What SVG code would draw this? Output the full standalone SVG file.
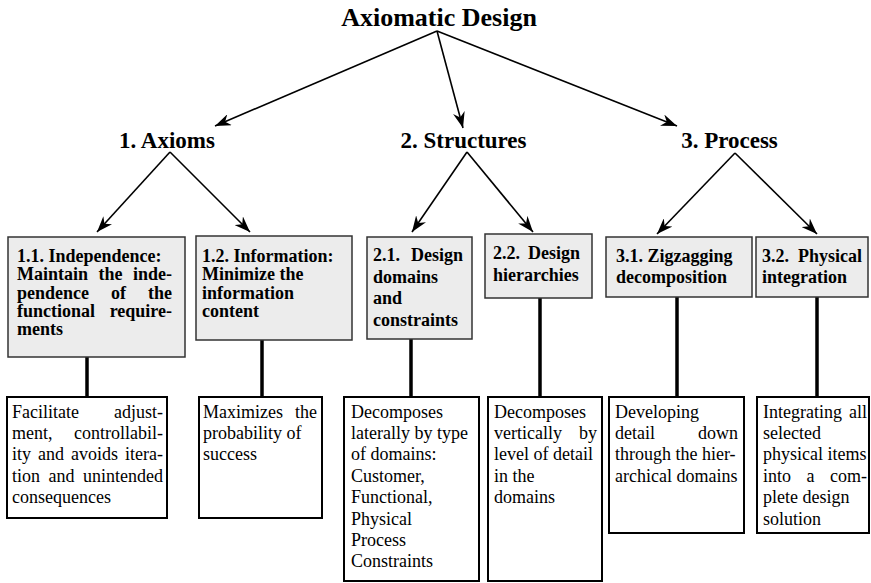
<svg xmlns="http://www.w3.org/2000/svg" width="871" height="583" viewBox="0 0 871 583">
<defs>
<style>
text{font-family:"Liberation Serif","Times New Roman",serif;fill:#000}
.title{font-weight:bold;font-size:26px}
.l2{font-weight:bold;font-size:23px}
.b{font-weight:bold;font-size:18px}
.r{font-size:18px}
.e{text-anchor:end}
.top{fill:#ececec;stroke:#333;stroke-width:1.5}
.bot{fill:#fff;stroke:#000;stroke-width:2}
.arr{stroke:#000;stroke-width:1.6;fill:none;marker-end:url(#ah)}
.vc{stroke:#000;stroke-width:3.5;fill:none}
</style>
<marker id="ah" viewBox="0 0 16 12" markerWidth="16" markerHeight="12" refX="16" refY="6" orient="auto" markerUnits="userSpaceOnUse">
<path d="M0,0 L16,6 L0,12 L5,6 z" fill="#000"/>
</marker>
</defs>

<g id="connectors">
<line class="arr" x1="437" y1="31" x2="215" y2="126"/>
<line class="arr" x1="437" y1="31" x2="463" y2="128"/>
<line class="arr" x1="437" y1="31" x2="677" y2="126"/>
<line class="arr" x1="170" y1="152" x2="97" y2="232"/>
<line class="arr" x1="170" y1="152" x2="250" y2="232"/>
<line class="arr" x1="467" y1="152" x2="412" y2="232"/>
<line class="arr" x1="467" y1="152" x2="533" y2="232"/>
<line class="arr" x1="735" y1="153" x2="657" y2="234"/>
<line class="arr" x1="735" y1="153" x2="817" y2="234"/>
<line class="vc" x1="87" y1="357" x2="87" y2="397"/>
<line class="vc" x1="262" y1="340" x2="262" y2="397"/>
<line class="vc" x1="411" y1="339" x2="411" y2="397"/>
<line class="vc" x1="540" y1="298" x2="540" y2="397"/>
<line class="vc" x1="677" y1="297" x2="677" y2="397"/>
<line class="vc" x1="817" y1="297" x2="817" y2="397"/>
</g>

<g id="root"><text class="title" x="439" y="26" text-anchor="middle">Axiomatic Design</text></g>
<g id="axioms"><text class="l2" x="167" y="148" text-anchor="middle">1. Axioms</text></g>
<g id="structures"><text class="l2" x="463.5" y="148" text-anchor="middle">2. Structures</text></g>
<g id="process"><text class="l2" x="729.5" y="148" text-anchor="middle">3. Process</text></g>

<g id="n11">
<rect class="top" x="8" y="237" width="177" height="120"/>
<text class="b" x="17" y="262">1.1. Independence:</text>
<text class="b" y="280.3"><tspan x="17">Maintain</tspan><tspan x="98.5">the</tspan></text>
<text class="b e" x="172" y="280.3">inde-</text>
<text class="b" y="298.6"><tspan x="17">pendence</tspan><tspan x="111">of</tspan></text>
<text class="b e" x="172" y="298.6">the</text>
<text class="b" x="17" y="317">functional</text>
<text class="b e" x="172" y="317">require-</text>
<text class="b" x="17" y="335.3">ments</text>
</g>
<g id="n12">
<rect class="top" x="196" y="236" width="156" height="104"/>
<text class="b" x="202" y="262">1.2. Information:</text>
<text class="b" x="202" y="280.3">Minimize the</text>
<text class="b" x="202" y="298.6">information</text>
<text class="b" x="202" y="317">content</text>
</g>
<g id="n21">
<rect class="top" x="367" y="237" width="105" height="102"/>
<text class="b" x="373" y="261">2.1.</text>
<text class="b e" x="463" y="261">Design</text>
<text class="b" x="373" y="282.5">domains</text>
<text class="b" x="373" y="304">and</text>
<text class="b" x="373" y="325.5">constraints</text>
</g>
<g id="n22">
<rect class="top" x="485" y="234" width="107" height="64"/>
<text class="b" x="493" y="259">2.2.</text>
<text class="b e" x="580" y="259">Design</text>
<text class="b" x="493" y="281">hierarchies</text>
</g>
<g id="n31">
<rect class="top" x="606" y="237" width="146" height="60"/>
<text class="b" x="616" y="261.5">3.1. Zigzagging</text>
<text class="b" x="616" y="283">decomposition</text>
</g>
<g id="n32">
<rect class="top" x="756" y="237" width="112" height="60"/>
<text class="b" x="762" y="261.5">3.2.</text>
<text class="b e" x="862" y="261.5">Physical</text>
<text class="b" x="762" y="283">integration</text>
</g>

<g id="d11">
<rect class="bot" x="7" y="397" width="160" height="121"/>
<text class="r" x="12" y="417.5">Facilitate</text>
<text class="r e" x="163" y="417.5">adjust-</text>
<text class="r" x="12" y="438.9">ment,</text>
<text class="r e" x="163" y="438.9">controllabil-</text>
<text class="r" y="460.3"><tspan x="12">ity</tspan><tspan x="38">and</tspan><tspan x="71">avoids</tspan></text>
<text class="r e" x="163" y="460.3">itera-</text>
<text class="r" y="481.7"><tspan x="12">tion</tspan><tspan x="48.5">and</tspan></text>
<text class="r e" x="163" y="481.7">unintended</text>
<text class="r" x="12" y="503.1">consequences</text>
</g>
<g id="d12">
<rect class="bot" x="199" y="397" width="123" height="121"/>
<text class="r" x="203" y="417.5">Maximizes</text>
<text class="r e" x="317" y="417.5">the</text>
<text class="r" x="203" y="438.9">probability of</text>
<text class="r" x="203" y="460.3">success</text>
</g>
<g id="d21">
<rect class="bot" x="344" y="397" width="135" height="184"/>
<text class="r" x="351" y="417.5">Decomposes</text>
<text class="r" x="351" y="438.9">laterally by type</text>
<text class="r" x="351" y="460.3">of domains:</text>
<text class="r" x="351" y="481.7">Customer,</text>
<text class="r" x="351" y="503.1">Functional,</text>
<text class="r" x="351" y="524.5">Physical</text>
<text class="r" x="351" y="545.9">Process</text>
<text class="r" x="351" y="567.3">Constraints</text>
</g>
<g id="d22">
<rect class="bot" x="488" y="397" width="114" height="184"/>
<text class="r" x="494" y="417.5">Decomposes</text>
<text class="r" x="494" y="438.9">vertically</text>
<text class="r e" x="597" y="438.9">by</text>
<text class="r" x="494" y="460.3">level of detail</text>
<text class="r" x="494" y="481.7">in the</text>
<text class="r" x="494" y="503.1">domains</text>
</g>
<g id="d31">
<rect class="bot" x="609" y="397" width="135" height="136"/>
<text class="r" x="615" y="417.5">Developing</text>
<text class="r" x="615" y="438.9">detail</text>
<text class="r e" x="738" y="438.9">down</text>
<text class="r" x="615" y="460.3">through the hier-</text>
<text class="r" x="615" y="481.7">archical domains</text>
</g>
<g id="d32">
<rect class="bot" x="757" y="397" width="112" height="136"/>
<text class="r" x="763" y="417.5">Integrating</text>
<text class="r e" x="867" y="417.5">all</text>
<text class="r" x="763" y="438.9">selected</text>
<text class="r" x="763" y="460.3">physical items</text>
<text class="r" y="481.7"><tspan x="763">into</tspan><tspan x="806.5">a</tspan></text>
<text class="r e" x="867" y="481.7">com-</text>
<text class="r" x="763" y="503.1">plete design</text>
<text class="r" x="763" y="524.5">solution</text>
</g>
</svg>
